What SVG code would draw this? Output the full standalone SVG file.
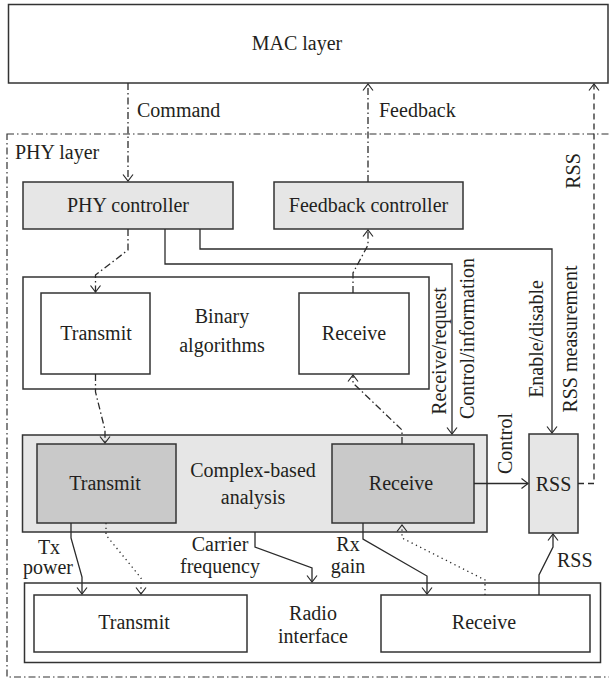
<svg xmlns="http://www.w3.org/2000/svg" width="609" height="678" viewBox="0 0 609 678">
<defs>
<marker id="arr" viewBox="-8 -7 10 14" refX="0" refY="0" markerWidth="10" markerHeight="14" markerUnits="userSpaceOnUse" orient="auto">
<path d="M-6.5,-5 L0,0 L-6.5,5" fill="none" stroke="#2b2b2b" stroke-width="1.2"/>
</marker>
</defs>
<style>
.m{text-anchor:middle}
.box{fill:#fff;stroke:#333;stroke-width:1.5}
.lg{fill:#e6e6e6;stroke:#333;stroke-width:1.5}
.dg{fill:#c9c9c9;stroke:#333;stroke-width:1.5}
.c{fill:none;stroke:#2b2b2b;stroke-width:1.3}
.dd{stroke-dasharray:7 3 1.5 3}
.dt{stroke-dasharray:1.3 3.5}
.da{stroke-dasharray:6 4}
</style>
<rect width="609" height="678" fill="#fff"/>
<g font-family="'Liberation Serif', 'Times New Roman', Times, serif" font-size="20" fill="#231f20">

<g id="mac">
<rect class="box" x="8.5" y="4.5" width="599.5" height="78.5"/>
<text class="m" x="297" y="50">MAC layer</text>
</g>

<g id="phy-layer">
<rect x="7" y="134" width="620" height="543" fill="none" stroke="#333" stroke-width="1.2" stroke-dasharray="7 3 1.5 3"/>
<text x="15" y="159">PHY layer</text>
</g>

<g id="phy-controller">
<rect class="lg" x="23" y="182" width="210" height="47"/>
<text class="m" x="128" y="212">PHY controller</text>
</g>

<g id="feedback-controller">
<rect class="lg" x="274" y="182" width="189" height="47"/>
<text class="m" x="368.5" y="212">Feedback controller</text>
</g>

<g id="binary">
<rect class="box" x="23" y="277" width="406" height="112"/>
<text class="m" x="222" y="323">Binary</text>
<text class="m" x="222" y="352">algorithms</text>
</g>
<g id="binary-transmit">
<rect class="box" x="41" y="293" width="109" height="81"/>
<text class="m" x="96" y="340">Transmit</text>
</g>
<g id="binary-receive">
<rect class="box" x="299" y="293" width="110" height="81"/>
<text class="m" x="354" y="340">Receive</text>
</g>

<g id="complex">
<rect class="lg" x="22.5" y="435" width="464.5" height="97"/>
<text class="m" x="253" y="477">Complex-based</text>
<text class="m" x="253" y="504">analysis</text>
</g>
<g id="complex-transmit">
<rect class="dg" x="37" y="444" width="139" height="79"/>
<text class="m" x="105" y="490">Transmit</text>
</g>
<g id="complex-receive">
<rect class="dg" x="332" y="444" width="142" height="79"/>
<text class="m" x="401" y="490">Receive</text>
</g>

<g id="rss">
<rect class="lg" x="529" y="434" width="49" height="99"/>
<text class="m" x="553.5" y="491">RSS</text>
</g>

<g id="radio">
<rect class="box" x="24.5" y="583" width="576" height="79.5"/>
<text class="m" x="313" y="620">Radio</text>
<text class="m" x="313" y="643">interface</text>
</g>
<g id="radio-transmit">
<rect class="box" x="34" y="595" width="213" height="57"/>
<text class="m" x="134" y="629">Transmit</text>
</g>
<g id="radio-receive">
<rect class="box" x="381" y="595" width="209" height="57"/>
<text class="m" x="484" y="629">Receive</text>
</g>

<g id="connectors">
<path class="c dd" d="M128,83 V181" marker-end="url(#arr)"/>
<text x="137" y="117">Command</text>
<path class="c dd" d="M368,182 V84" marker-end="url(#arr)"/>
<text x="379" y="117">Feedback</text>
<path class="c da" d="M578,483.5 H594 V84" marker-end="url(#arr)"/>
<text class="m" transform="translate(580,171) rotate(-90)">RSS</text>

<path class="c dd" d="M128,229 V250 L95.5,275 V292" marker-end="url(#arr)"/>
<path class="c dd" d="M353,293 V273 L368,245 V230" marker-end="url(#arr)"/>
<path class="c dd" d="M95.5,374 V392 L105,430 V443" marker-end="url(#arr)"/>
<path class="c dd" d="M402,444 V430 L353,383 V375" marker-end="url(#arr)"/>

<path class="c" d="M165,229 V264 H452 V434" marker-end="url(#arr)"/>
<text class="m" transform="translate(446,351) rotate(-90)">Receive/request</text>
<text class="m" transform="translate(474,338.5) rotate(-90)">Control/information</text>
<path class="c" d="M200,229 V249 H552 V433" marker-end="url(#arr)"/>
<text class="m" transform="translate(543,339) rotate(-90)">Enable/disable</text>
<text class="m" transform="translate(577,339) rotate(-90)">RSS measurement</text>

<path class="c" d="M474,483.5 H528" marker-end="url(#arr)"/>
<text class="m" transform="translate(512,443.5) rotate(-90)">Control</text>

<path class="c" d="M71,523 V538 L82,577 V594" marker-end="url(#arr)"/>
<text class="m" x="49" y="554">Tx</text>
<text class="m" x="48" y="574">power</text>
<path class="c dt" d="M106,523 V535 L141,578 V594" marker-end="url(#arr)"/>
<path class="c" d="M255,532 V547 L312,568 V582" marker-end="url(#arr)"/>
<text class="m" x="220" y="551">Carrier</text>
<text class="m" x="220" y="573">frequency</text>
<path class="c" d="M363,523 V539 L427,576 V594" marker-end="url(#arr)"/>
<text class="m" x="348" y="551">Rx</text>
<text class="m" x="348" y="573">gain</text>
<path class="c dt" d="M485,595 V580 L402,538 V525" marker-end="url(#arr)"/>
<path class="c" d="M539,595 V575 L553,547 V534" marker-end="url(#arr)"/>
<text x="557" y="567">RSS</text>
</g>
</g>
</svg>
